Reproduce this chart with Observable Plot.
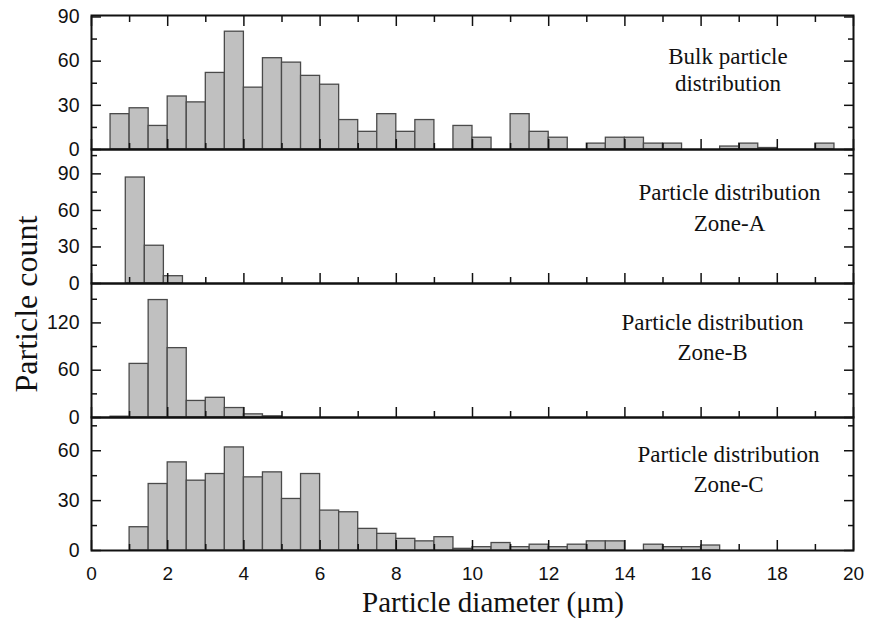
<!DOCTYPE html>
<html>
<head>
<meta charset="utf-8">
<script src="https://cdn.jsdelivr.net/npm/d3@7"></script>
<script src="https://cdn.jsdelivr.net/npm/@observablehq/plot@0.6"></script>
<style>
  body { margin: 0; background: #fff; }
  #chart { position: relative; width: 870px; height: 619px; overflow: hidden; }
  .ttl { position: absolute; font-family: "Liberation Serif", "Times New Roman", serif; color: #111; white-space: nowrap; text-align: center; line-height: 1; }
</style>
</head>
<body>
<div id="chart"></div>
<script>
// ---------------- data ----------------
const BIN = 0.5;
const bulkStarts = [0.5,1,1.5,2,2.5,3,3.5,4,4.5,5,5.5,6,6.5,7,7.5,8,8.5,9,9.5,10,10.5,11,11.5,12,12.5,13,13.5,14,14.5,15,15.5,16,16.5,17,17.5,18,18.5,19];
const bulkCounts = [24,28,16,36,32,52,80,42,62,59,50,44,20,12,24,12,20,0,16,8,0,24,12,8,0,4,8,8,4,4,0,0,2,4,1,0,0,4];

const zoneAStarts = [0.9,1.4,1.9];
const zoneACounts = [87,31,6];

const zoneBStarts = [0.5,1,1.5,2,2.5,3,3.5,4,4.5];
const zoneBCounts = [1,68,149,88,21,25,12,4,1.5];

const zoneCStarts = [1,1.5,2,2.5,3,3.5,4,4.5,5,5.5,6,6.5,7,7.5,8,8.5,9,9.5,10,10.5,11,11.5,12,12.5,13,13.5,14,14.5,15,15.5,16];
const zoneCCounts = [14,40,53,42,46,62,44,47,31,46,24,23,13,10,7,5.5,8,1,2,4.5,2,3.5,2,3.5,5.5,5.5,0,3.5,2,2,3];

const xTickLabels = [0,2,4,6,8,10,12,14,16,18,20];
const xMinorTicks = [1,3,5,7,9,11,13,15,17,19];

const p1Labels = [0,30,60,90];   const p1Minor = [15,45,75];
const p2Labels = [0,30,60,90];   const p2Minor = [15,45,75,105];
const p3Labels = [0,60,120];     const p3Minor = [30,90,150];
const p4Labels = [0,30,60];      const p4Minor = [15,45,75];

const notes = ["Bulk particle\ndistribution", "Particle distribution\nZone-A", "Particle distribution\nZone-B", "Particle distribution\nZone-C"];
const xTitle = "Particle diameter (\u03bcm)";
const yTitle = "Particle count";

// ---------------- layout ----------------
const W = 870, ML = 91, MR = 17;
const panels = [
  {starts: bulkStarts, counts: bulkCounts, yMax: 91,  major: p1Labels, minor: p1Minor, top: 15,  h: 134, note: notes[0], nx: 727.5, nb: 63,    lh: 28, topTicks: true},
  {starts: zoneAStarts, counts: zoneACounts, yMax: 110, major: p2Labels, minor: p2Minor, top: 149, h: 134, note: notes[1], nx: 729,   nb: 200,   lh: 31},
  {starts: zoneBStarts, counts: zoneBCounts, yMax: 170, major: p3Labels, minor: p3Minor, top: 283, h: 134, note: notes[2], nx: 712,   nb: 330,   lh: 30},
  {starts: zoneCStarts, counts: zoneCCounts, yMax: 80,  major: p4Labels, minor: p4Minor, top: 417, h: 133, note: notes[3], nx: 728,   nb: 461.5, lh: 30, last: true}
];

const INK = "#111";
const SANS = "Liberation Sans, Arial, sans-serif";
const SERIF = "Liberation Serif, Times New Roman, serif";
const NOTE_FS = 23;

const chart = document.getElementById("chart");

panels.forEach(p => {
  const mT = 10, mB = p.last ? 40 : 10;
  const rows = p.starts.map((s, j) => ({x1: s, x2: s + BIN, y1: 0, y2: p.counts[j]})).filter(d => d.y2 > 0);
  const tickStyle = {fill: "none", stroke: INK, strokeWidth: 1.5};
  const marks = [
    Plot.rect(rows, {x1: "x1", x2: "x2", y1: "y1", y2: "y2", fill: "#c0c0c0", stroke: "#4a4a4a", strokeWidth: 1.3}),
    Plot.axisY({ticks: p.major, tickSize: -10, ...tickStyle}),
    Plot.axisY({ticks: p.minor, tickSize: -6, ...tickStyle}),
    Plot.axisY({anchor: "right", ticks: p.major, tickSize: -10, ...tickStyle}),
    Plot.axisY({anchor: "right", ticks: p.minor, tickSize: -6, ...tickStyle}),
    Plot.axisY({ticks: p.major, tickSize: 0, tickPadding: 12, label: null, fill: INK, fontSize: 19.5, fontFamily: SANS}),
    Plot.axisX({ticks: xTickLabels, tickSize: -10, ...tickStyle}),
    Plot.axisX({ticks: xMinorTicks, tickSize: -6, ...tickStyle}),
  ];
  if (p.topTicks) {
    marks.push(Plot.axisX({anchor: "top", ticks: xTickLabels, tickSize: -10, ...tickStyle}));
    marks.push(Plot.axisX({anchor: "top", ticks: xMinorTicks, tickSize: -6, ...tickStyle}));
  }
  if (p.last) {
    marks.push(Plot.axisX({ticks: xTickLabels, tickSize: 0, tickPadding: 16, label: null, fill: INK, fontSize: 19, fontFamily: SANS}));
  }
  marks.push(Plot.frame({stroke: INK, strokeWidth: 2}));
  marks.push(Plot.text([p.note], {
    text: d => d, frameAnchor: "top",
    dx: p.nx - (ML + (W - MR)) / 2,
    dy: p.nb - 0.71 * p.lh - p.top,
    textAnchor: "middle", lineAnchor: "top", lineHeight: p.lh / NOTE_FS,
    fontSize: NOTE_FS, fontFamily: SERIF, fill: INK
  }));

  const svg = Plot.plot({
    width: W, height: p.h + mT + mB,
    marginLeft: ML, marginRight: MR, marginTop: mT, marginBottom: mB,
    x: {domain: [0, 20], label: null},
    y: {domain: [0, p.yMax], label: null},
    style: `position:absolute;left:0px;top:${p.top - mT}px;background:transparent;overflow:visible;max-width:none;`,
    marks
  });
  chart.appendChild(svg);
});

// titles
const xt = document.createElement("div");
xt.className = "ttl";
xt.textContent = xTitle;
Object.assign(xt.style, {fontSize: "29px", width: "400px", left: (493 - 200) + "px", top: "588px"});
chart.appendChild(xt);

const yt = document.createElement("div");
yt.className = "ttl";
yt.textContent = yTitle;
Object.assign(yt.style, {fontSize: "32px", width: "300px", height: "32px", left: (26 - 150) + "px", top: (304 - 16) + "px", transform: "rotate(-90deg)", transformOrigin: "50% 50%"});
chart.appendChild(yt);
</script>
</body>
</html>
